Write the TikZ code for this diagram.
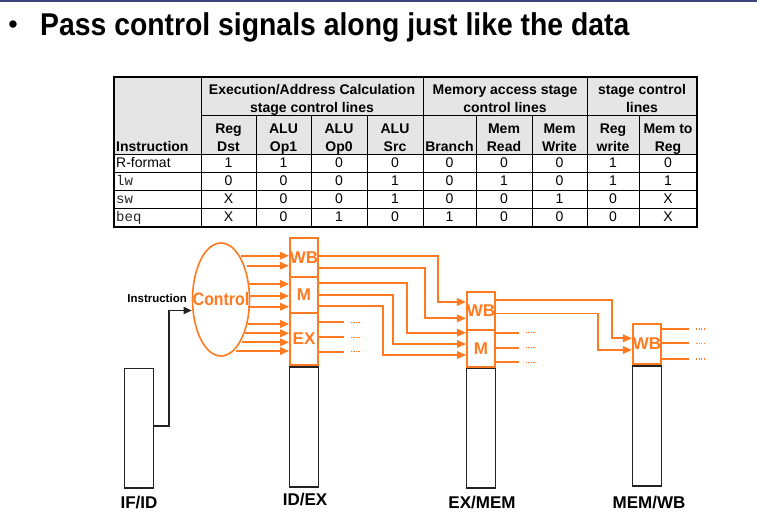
\documentclass[tikz,border=0pt]{standalone}
\usepackage{fontspec}
\setmainfont{Liberation Sans}
\newfontfamily\codefont{Liberation Mono}
\usetikzlibrary{shapes.geometric,arrows.meta,calc}
\definecolor{sig}{RGB}{255,122,32}
\definecolor{hdrgray}{RGB}{229,229,229}
\definecolor{regline}{RGB}{35,35,35}
\definecolor{topbar}{RGB}{60,68,120}
\begin{document}
\begin{tikzpicture}[x=1pt,y=-1pt,
  hdcell/.style={font=\fontsize{14}{17.5}\selectfont\bfseries, inner sep=0, align=center, anchor=base},
  valcell/.style={font=\fontsize{14}{17}\selectfont, inner sep=0, anchor=base},
  codecell/.style={font=\fontsize{14}{17}\codefont, inner sep=0, anchor=base west, text=black!85},
  obox/.style={draw=sig, line width=1.8, inner sep=0, text=sig, font=\fontsize{17}{17}\selectfont\bfseries, minimum width=28},
  bbox/.style={draw=regline, line width=1.8, inner sep=0, minimum width=29},
  sigline/.style={draw=sig, line width=1.8},
  sigarrow/.style={sigline, -{Triangle[length=9,width=7.5]}},
  sigdots/.style={draw=sig, line width=1.3, dash pattern=on 1.2 off 1.3},
  stagelbl/.style={font=\fontsize{17}{17}\selectfont\bfseries, inner sep=0, anchor=base},
  tblline/.style={draw=black, line width=0.9},
]
\useasboundingbox (0,0) rectangle (757,516);
\fill[white] (0,0) rectangle (757,516);
\fill[topbar] (0,0) rectangle (757,1.6);

% title
\node[font=\fontsize{27}{27}\selectfont, inner sep=0, anchor=base] (bullet) at (13,34) {•};
\node[font=\fontsize{31.5}{32}\selectfont\bfseries, inner sep=0, anchor=base west] (title) at (40,36)
  {\scalebox{0.9}[1]{Pass control signals along just like the data}};

% ---------- table ----------
\fill[hdrgray] (114,77) rectangle (697,154);
\draw[tblline] (201,115) -- (697,115);
\foreach \yy in {154,172,190,208} \draw[tblline] (114,\yy) -- (697,\yy);
\foreach \xx in {201,423,587} \draw[tblline] (\xx,77) -- (\xx,227);
\foreach \xx in {256,311,367,476,532,639} \draw[tblline] (\xx,115) -- (\xx,227);
\draw[line width=2] (114,77) rectangle (697,227);

\node[hdcell] (g1) at (312,112.5) {Execution/Address Calculation\\stage control lines};
\node[hdcell] (g2) at (505,112.5) {Memory access stage\\control lines};
\node[hdcell] (g3) at (642,112.5) {stage control\\lines};

\node[hdcell, anchor=base west] (hinst) at (116,151.5) {Instruction};
\node[hdcell] (h1) at (228.5,151.5) {Reg\\Dst};
\node[hdcell] (h2) at (283.5,151.5) {ALU\\Op1};
\node[hdcell] (h3) at (339,151.5) {ALU\\Op0};
\node[hdcell] (h4) at (395,151.5) {ALU\\Src};
\node[hdcell] (h5) at (449.5,151.5) {Branch};
\node[hdcell] (h6) at (504,151.5) {Mem\\Read};
\node[hdcell] (h7) at (559.5,151.5) {Mem\\Write};
\node[hdcell] (h8) at (613,151.5) {Reg\\write};
\node[hdcell] (h9) at (668,151.5) {Mem to\\Reg};

\node[valcell, anchor=base west] (rfmt) at (116,167.3) {R-format};
\node[codecell] (lw) at (116,185.2) {lw};
\node[codecell] (sw) at (116,203.3) {sw};
\node[codecell] (beq) at (116,221.6) {beq};

\foreach \row [count=\i] in {{1,1,0,0,0,0,0,1,0},{0,0,0,1,0,1,0,1,1},{X,0,0,1,0,0,1,0,X},{X,0,1,0,1,0,0,0,X}}{
  \foreach \v [count=\j] in \row {
    \pgfmathsetmacro\cx{{228.5,283.5,339,395,449.5,504,559.5,613,668}[\j-1]}
    \pgfmathsetmacro\cy{{167.3,185.2,203.3,221.6}[\i-1]}
    \node[valcell] (d\i-\j) at (\cx,\cy) {\v};
  }
}

% ---------- pipeline registers ----------
\node[bbox, minimum height=119.5] (ifid) at (139,428.2) {};
\node[bbox, minimum height=120] (idex) at (304,427) {};
\node[bbox, minimum height=119.5] (exmem) at (481,428.2) {};
\node[bbox, minimum height=120] (memwb) at (647,426) {};

\node[obox, minimum height=39] (idexwb) at (304,257.5) {WB};
\node[obox, minimum height=36] (idexm) at (304,295) {M};
\node[obox, minimum height=52] (idexex) at (304,339) {EX};
\node[obox, minimum height=38] (exmemwb) at (481,311) {WB};
\node[obox, minimum height=37] (exmemm) at (481,348.5) {M};
\node[obox, minimum height=40] (memwbwb) at (647,344) {WB};

\node[stagelbl] (lifid) at (139,508) {IF/ID};
\node[stagelbl] (lidex) at (305,505) {ID/EX};
\node[stagelbl] (lexmem) at (482,508) {EX/MEM};
\node[stagelbl] (lmemwb) at (649,508) {MEM/WB};

% ---------- control ----------
\node[ellipse, draw=sig, line width=1.6, minimum width=57, minimum height=113, inner sep=0] (ctrl) at (221,299.5) {};
\node[text=sig, font=\fontsize{18}{18}\selectfont\bfseries, inner sep=0] (ctrltxt) at (221,299) {\scalebox{0.88}[1]{Control}};

\node[font=\fontsize{11.5}{12}\selectfont\bfseries, inner sep=0, anchor=base east] (instr) at (187,302) {Instruction};
\draw[regline, line width=1.6, -{Triangle[length=8,width=7]}]
  (ifid.east |- 0,426) -| (169,310.5) -- (ctrl.west |- 0,310.5);

% control -> ID/EX
\foreach \n/\x/\y/\b in {1/241/255.7/idexwb, 2/246.5/265.7/idexwb,
    3/248.3/284/idexm, 4/250/296/idexm, 5/248.3/306.7/idexm,
    6/247.5/324/idexex, 7/245/333.3/idexex, 8/241.5/342.3/idexex, 9/236/351/idexex}{
  \coordinate (c\n) at (\x,\y);
  \draw[sigarrow] (c\n) -- (c\n -| \b.west);
}

% ID/EX -> EX/MEM
\draw[sigarrow] (idexwb.east |- 0,255.7) -| (437.7,302) -- (exmemwb.west |- 0,302);
\draw[sigarrow] (idexwb.east |- 0,267.7) -| (425,318.3) -- (exmemwb.west |- 0,318.3);
\draw[sigarrow] (idexm.east |- 0,283.3) -| (406.7,332.7) -- (exmemm.west |- 0,332.7);
\draw[sigarrow] (idexm.east |- 0,295) -| (393.3,344) -- (exmemm.west |- 0,344);
\draw[sigarrow] (idexm.east |- 0,306) -| (383.3,355) -- (exmemm.west |- 0,355);

% EX outputs
\foreach \y in {322.3,337.3,351.7}{
  \draw[sigline] (idexex.east |- 0,\y) -- ++(25,0);
  \draw[sigdots] (idexex.east |- 0,\y) ++(32,0) -- ++(10,0);
}

% EX/MEM -> MEM/WB
\draw[sigarrow] (exmemwb.east |- 0,300) -| (611.7,338.3) -- (memwbwb.west |- 0,338.3);
\draw[sigarrow] (exmemwb.east |- 0,313.5) -| (598.3,350) -- (memwbwb.west |- 0,350);

% M outputs
\foreach \y in {332.7,347.7,362.3}{
  \draw[sigline] (exmemm.east |- 0,\y) -- ++(23,0);
  \draw[sigdots] (exmemm.east |- 0,\y) ++(30,0) -- ++(10,0);
}

% WB outputs
\foreach \y in {329,343.3,359}{
  \draw[sigline] (memwbwb.east |- 0,\y) -- ++(27,0);
  \draw[sigdots] (memwbwb.east |- 0,\y) ++(34,0) -- ++(10,0);
}
\end{tikzpicture}
\end{document}
